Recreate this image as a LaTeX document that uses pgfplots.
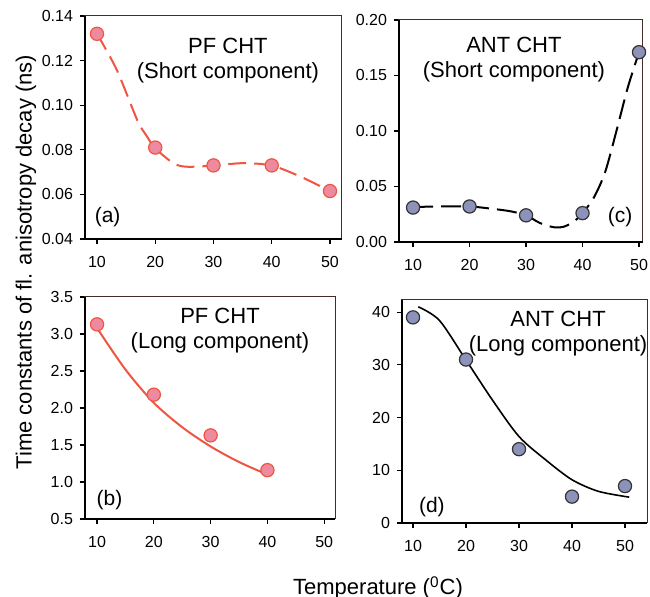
\documentclass[border=0pt]{standalone}
\usepackage{fontspec}
\setmainfont{Liberation Sans}
\usepackage{pgfplots}
\pgfplotsset{compat=1.18}
\definecolor{pfred}{RGB}{238,86,66}
\definecolor{pfpink}{RGB}{238,138,160}
\definecolor{antblue}{RGB}{140,146,186}
\definecolor{boxline}{RGB}{70,45,35}

\newcommand{\titlefont}{\fontsize{11}{12.5}\selectfont}
\newcommand{\panelfont}{\fontsize{10.5}{12}\selectfont}

\pgfplotsset{
  panel/.style={
    scale only axis, anchor=south west, clip=false,
    axis line style={line width=0.5pt, color=boxline},
    xtick={10,20,30,40,50},
    xtick pos=left, ytick pos=left,
    tick align=outside, major tick length=2.5pt,
    tick style={black, line width=0.6pt},
    tick label style={font=\fontsize{8}{9.5}\selectfont},
    xticklabel style={yshift=-2.5pt},
    /pgf/number format/assume math mode=true,
  },
  redmark/.style={only marks, mark=*, mark size=3.3pt,
    mark options={fill=pfpink, draw=pfred, line width=0.6pt}},
  bluemark/.style={only marks, mark=*, mark size=3.3pt,
    mark options={fill=antblue, draw=black!80, line width=0.6pt}},
}
\newcommand{\leftbottom}{\draw[line width=1pt, black] (rel axis cs:0,1) -- (rel axis cs:0,0) -- (rel axis cs:1,0);}

\begin{document}
\begin{tikzpicture}
\useasboundingbox (0,0) rectangle (325pt,298.5pt);

% (a) PF CHT short component
\begin{axis}[panel, at={(42.5pt,179pt)}, width=128.5pt, height=111.5pt,
  xmin=7.94, xmax=52.06, ymin=0.04, ymax=0.14,
  ytick={0.04,0.06,0.08,0.10,0.12,0.14},
  yticklabel style={/pgf/number format/.cd, fixed, fixed zerofill, precision=2}]
\addplot[pfred, line width=1pt, dash pattern=on 9pt off 4pt, smooth] coordinates
{(10,0.132) (13.4,0.1158) (16.9,0.0934) (18.6,0.0859) (20,0.0807) (23.1,0.074) (25.4,0.0724) (30,0.0729) (35.1,0.074) (40,0.0729) (44.9,0.068) (50,0.0615)};
\addplot[redmark] coordinates {(10,0.132) (20,0.081) (30,0.073) (40,0.073) (50,0.0615)};
\leftbottom
\node[align=center, font=\titlefont] at (rel axis cs:0.556,0.80) {PF CHT\\(Short component)};
\node[font=\panelfont] at (rel axis cs:0.088,0.099) {(a)};
\end{axis}

% (c) ANT CHT short component
\begin{axis}[panel, at={(199.5pt,177.5pt)}, width=122pt, height=111pt,
  xmin=7.51, xmax=50.7, ymin=0, ymax=0.2,
  ytick={0,0.05,0.10,0.15,0.20},
  yticklabel style={/pgf/number format/.cd, fixed, fixed zerofill, precision=2}]
\addplot[black, line width=1pt, dash pattern=on 10pt off 4pt, smooth] coordinates
{(10,0.0315) (14.8,0.032) (20,0.032) (24.3,0.0297) (27.3,0.0276) (30,0.024) (32.5,0.017) (35,0.0132) (36.7,0.0138) (38.5,0.0186) (40,0.026) (42,0.040) (44,0.063) (46,0.100) (48,0.139) (50,0.171)};
\addplot[bluemark] coordinates {(10,0.031) (20,0.032) (30,0.024) (40,0.026) (50,0.171)};
\leftbottom
\node[align=center, font=\titlefont] at (rel axis cs:0.471,0.822) {ANT CHT\\(Short component)};
\node[font=\panelfont] at (rel axis cs:0.906,0.113) {(c)};
\end{axis}

% (b) PF CHT long component
\begin{axis}[panel, at={(42.5pt,39pt)}, width=125pt, height=111pt,
  xmin=7.88, xmax=51.9, ymin=0.5, ymax=3.5,
  ytick={0.5,1.0,1.5,2.0,2.5,3.0,3.5},
  yticklabel style={/pgf/number format/.cd, fixed, fixed zerofill, precision=1}]
\addplot[pfred, line width=1pt, smooth] coordinates
{(10,3.08) (15,2.52) (20,2.07) (25,1.74) (30,1.48) (35,1.27) (40,1.10)};
\addplot[redmark] coordinates {(10,3.13) (20,2.18) (30,1.63) (40,1.16)};
\leftbottom
\node[align=center, font=\titlefont] at (rel axis cs:0.54,0.849) {PF CHT\\(Long component)};
\node[font=\panelfont] at (rel axis cs:0.098,0.086) {(b)};
\end{axis}

% (d) ANT CHT long component
\begin{axis}[panel, at={(201pt,37pt)}, width=122.5pt, height=111.5pt,
  xmin=7.92, xmax=54.15, ymin=0, ymax=42.3,
  ytick={0,10,20,30,40}]
\addplot[black, line width=0.8pt, smooth] coordinates
{(11,41) (15,38.4) (20,30.9) (25,23.3) (30,16.4) (35,12) (40,8.2) (45,6) (50.8,4.9)};
\addplot[bluemark] coordinates {(10,39) (20,31) (30,14) (40,5) (50,7)};
\leftbottom
\node[align=center, font=\titlefont] at (rel axis cs:0.637,0.85) {ANT CHT\\(Long component)};
\node[font=\panelfont] at (rel axis cs:0.122,0.072) {(d)};
\end{axis}

\node[rotate=90, font=\fontsize{11}{13}\selectfont] at (13pt,167.5pt) {Time constants of fl. anisotropy decay (ns)};
\node[anchor=base, font=\fontsize{11}{13}\selectfont] at (189pt,1pt) {Temperature (\textsuperscript{0}C)};
\end{tikzpicture}
\end{document}
